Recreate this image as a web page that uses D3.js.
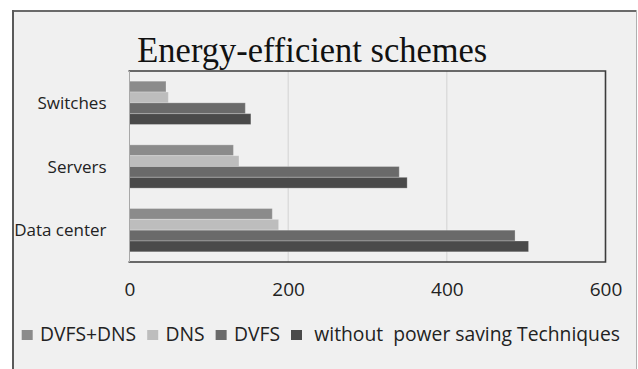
<!DOCTYPE html>
<html>
<head>
<meta charset="utf-8">
<script src="https://cdn.jsdelivr.net/npm/d3@7"></script>
<style>
  html, body { margin: 0; padding: 0; background: #ffffff; }
  svg { display: block; }
</style>
</head>
<body>
<svg id="chart" width="638" height="369"></svg>
<script>
// ---- data ----
const categories = ["Switches", "Servers", "Data center"];
const seriesNames = ["DVFS+DNS", "DNS", "DVFS", " without  power saving Techniques"];
const dvfsDns = [46, 131, 180];
const dns = [49, 138, 188];
const dvfs = [146, 340, 486];
const withoutSaving = [153, 350, 503];
const xTicks = [0, 200, 400, 600];
const titleText = "Energy-efficient schemes";

const seriesValues = [dvfsDns, dns, dvfs, withoutSaving];
const colors = ["#8b8b8b", "#bdbdbd", "#6a6a6a", "#4a4a4a"];

const svg = d3.select("#chart");

// outer frame
svg.append("rect").attr("x", 12).attr("y", 10).attr("width", 625).attr("height", 380)
  .attr("fill", "#f0f0f0").attr("stroke", "none");
svg.append("line").attr("x1", 12).attr("x2", 637).attr("y1", 11).attr("y2", 11)
  .attr("stroke", "#6a6a6a").attr("stroke-width", 2);
svg.append("line").attr("x1", 13).attr("x2", 13).attr("y1", 10).attr("y2", 369)
  .attr("stroke", "#5a5a5a").attr("stroke-width", 2);
svg.append("line").attr("x1", 636.5).attr("x2", 636.5).attr("y1", 10).attr("y2", 369)
  .attr("stroke", "#b0b0b0").attr("stroke-width", 1);

// scales
const plot = { left: 129.5, right: 605.5, top: 71, bottom: 262 };
const x = d3.scaleLinear().domain([0, 600]).range([plot.left, plot.right]);
const y = d3.scaleBand().domain(categories).range([plot.top, plot.bottom])
  .paddingInner(0.32).paddingOuter(0.16);
const y1 = d3.scaleBand().domain(d3.range(seriesNames.length)).range([0, y.bandwidth()]);

// gridlines
svg.append("g").selectAll("line").data(xTicks.filter(d => d > 0 && d < 600)).join("line")
  .attr("x1", d => x(d)).attr("x2", d => x(d))
  .attr("y1", plot.top).attr("y2", plot.bottom)
  .attr("stroke", "#d2d2d2").attr("stroke-width", 1);

// bars
const groups = svg.append("g").selectAll("g").data(categories).join("g")
  .attr("transform", d => `translate(0,${y(d)})`);
groups.selectAll("rect")
  .data((c, ci) => seriesValues.map((vals, si) => ({ si, v: vals[ci] })))
  .join("rect")
  .attr("x", x(0))
  .attr("y", d => y1(d.si))
  .attr("width", d => x(d.v) - x(0))
  .attr("height", y1.bandwidth())
  .attr("fill", d => colors[d.si])
  .attr("stroke", "rgba(255,255,255,0.25)")
  .attr("stroke-width", 1);

// plot frame
svg.append("path")
  .attr("d", `M${plot.left - 1},${plot.top}H${plot.right}V${plot.bottom}H${plot.left - 1}`)
  .attr("fill", "none").attr("stroke", "#3c3c3c").attr("stroke-width", 1.6);
svg.append("line").attr("x1", plot.left).attr("x2", plot.left)
  .attr("y1", plot.top).attr("y2", plot.bottom)
  .attr("stroke", "#a8a8a8").attr("stroke-width", 1);

// x axis
const xAxis = svg.append("g").attr("transform", `translate(0,${plot.bottom})`)
  .call(d3.axisBottom(x).tickValues(xTicks).tickSize(0).tickPadding(21));
xAxis.select(".domain").remove();
xAxis.selectAll("text")
  .attr("font-family", "'Open Sans', sans-serif").attr("font-size", 19)
  .attr("fill", "#222");

// y axis
const yAxis = svg.append("g").attr("transform", `translate(${plot.left},0)`)
  .call(d3.axisLeft(y).tickSize(0).tickPadding(23));
yAxis.select(".domain").remove();
yAxis.selectAll("text")
  .attr("font-family", "'Open Sans', sans-serif").attr("font-size", 17)
  .attr("fill", "#222").attr("dy", "0.36em");

// title
svg.append("text")
  .attr("x", 137.3).attr("y", 61.7)
  .attr("font-family", "'Liberation Serif', serif").attr("font-size", 36)
  .attr("fill", "#111")
  .attr("textLength", 350).attr("lengthAdjust", "spacingAndGlyphs")
  .text(titleText);

// legend
const legend = svg.append("g");
const legStart = 21.7, legEnd = 620, sqW = 11, sqGap = 7.3, itemGap = 11;
const items = seriesNames.map((name, i) => {
  const t = legend.append("text")
    .attr("y", 341)
    .attr("font-family", "'Open Sans', sans-serif").attr("font-size", 19.5)
    .attr("fill", "#222")
    .style("white-space", "pre")
    .text(name);
  return { t, w: t.node().getComputedTextLength(), i };
});
const fixed = seriesNames.length * (sqW + sqGap) + (seriesNames.length - 1) * itemGap;
const totalText = d3.sum(items, d => d.w);
const factor = Math.min(1, (legEnd - legStart - fixed) / totalText);
let cx = legStart;
items.forEach(({ t, w, i }) => {
  legend.append("rect").attr("x", cx).attr("y", 330).attr("width", sqW).attr("height", 10)
    .attr("fill", colors[i]);
  const tw = w * factor;
  t.attr("x", cx + sqW + sqGap).attr("textLength", tw).attr("lengthAdjust", "spacingAndGlyphs");
  cx = cx + sqW + sqGap + tw + itemGap;
});
</script>
</body>
</html>
